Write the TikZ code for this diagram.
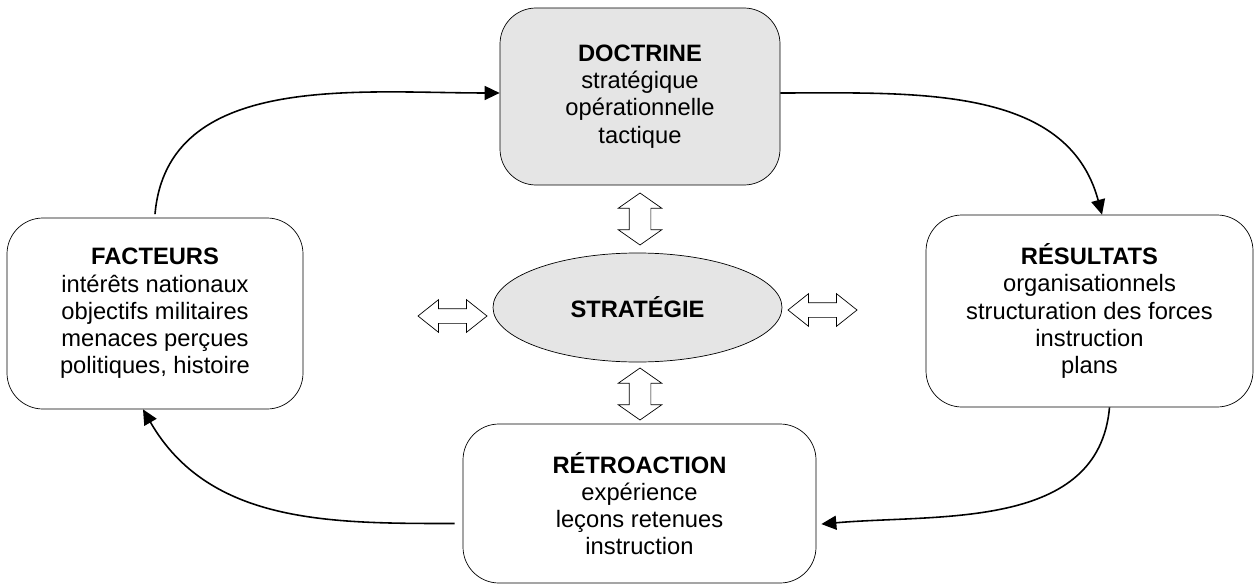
\documentclass[tikz,border=0pt]{standalone}
\usepackage{fontspec}
\setmainfont{Liberation Sans}
\usetikzlibrary{arrows.meta,shapes.geometric,shapes.arrows}
\tikzset{
  box/.style={draw,rectangle,rounded corners=0.72cm,align=center,
    font=\fontsize{13.5}{15.5}\selectfont},
  vdbl/.style={draw,double arrow,shape border rotate=90,inner xsep=0.21cm,inner ysep=0pt,
    minimum height=1.04cm,minimum width=0.86cm,
    double arrow head extend=0.22cm,double arrow tip angle=110},
  hdbl/.style={draw,double arrow,inner xsep=0pt,inner ysep=0.14cm,
    minimum height=1.38cm,minimum width=0.64cm,
    double arrow head extend=0.18cm,double arrow tip angle=77},
}
\begin{document}
\begin{tikzpicture}[>={Triangle[length=0.3cm,width=0.28cm]}]
\useasboundingbox (0,0) rectangle (25.18,11.68);
\node[box,fill=gray!20,minimum width=5.6cm,minimum height=3.54cm] (doctrine) at (12.8,9.75)
  {\textbf{DOCTRINE}\\stratégique\\opérationnelle\\tactique};
\node[box,minimum width=5.92cm,minimum height=3.82cm] (facteurs) at (3.1,5.41)
  {\textbf{FACTEURS}\\intérêts nationaux\\objectifs militaires\\menaces perçues\\politiques, histoire};
\node[box,minimum width=6.54cm,minimum height=3.84cm] (resultats) at (21.79,5.46)
  {\textbf{RÉSULTATS}\\organisationnels\\structuration des forces\\instruction\\plans};
\node[box,minimum width=7.06cm,minimum height=3.18cm] (retroaction) at (12.79,1.61)
  {\textbf{RÉTROACTION}\\expérience\\leçons retenues\\instruction};
\node[draw,ellipse,fill=gray!20,minimum width=5.78cm,minimum height=2.18cm,
  font=\fontsize{13.5}{15.5}\selectfont\bfseries] (strategie) at (12.75,5.53) {STRATÉGIE};

\node[vdbl] (dblup) at (12.8,7.3) {};
\node[vdbl] (dbldown) at (12.8,3.8) {};
\node[hdbl] (dblleft) at (9.05,5.36) {};
\node[hdbl] (dblright) at (16.45,5.48) {};

\draw[->,line width=0.9pt] ([yshift=2pt]facteurs.north) to[out=85,in=180] ([yshift=2pt]doctrine.west);
\draw[->,line width=0.9pt] ([yshift=2pt]doctrine.east) to[out=0,in=105] ([xshift=0.25cm]resultats.north);
\draw[->,line width=0.9pt,shorten >=0.1cm] ([xshift=0.4cm]resultats.south) to[out=-95,in=5] ([yshift=-0.42cm]retroaction.east);
\draw[->,line width=0.9pt,shorten <=0.16cm] ([yshift=-0.4cm]retroaction.west) to[out=180,in=-60] ([xshift=-0.24cm]facteurs.south);
\end{tikzpicture}
\end{document}
